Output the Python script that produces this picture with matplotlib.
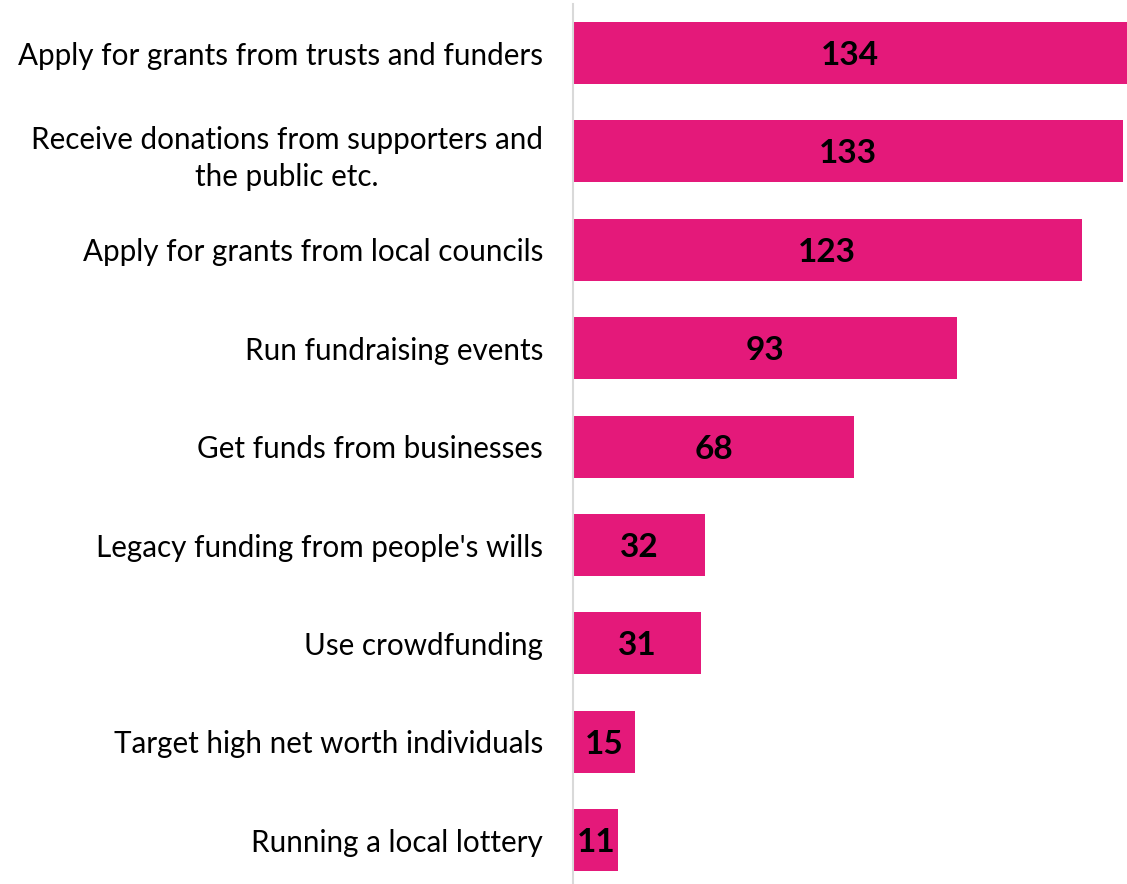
import matplotlib.pyplot as plt

categories = [
    "Apply for grants from trusts and funders",
    "Receive donations from supporters and\nthe public etc.",
    "Apply for grants from local councils",
    "Run fundraising events",
    "Get funds from businesses",
    "Legacy funding from people's wills",
    "Use crowdfunding",
    "Target high net worth individuals",
    "Running a local lottery",
]
counts = [134, 133, 123, 93, 68, 32, 31, 15, 11]

plt.rcParams['font.family'] = ['Lato', 'DejaVu Sans']

fig = plt.figure(figsize=(11.27, 8.84), dpi=100)
ax = fig.add_axes([573 / 1127, 0, 1 - 573 / 1127, 1 - 4 / 884])

pos = list(range(len(categories)))
bars = ax.barh(pos, counts, height=0.63, color='#E4197A')

for b, v in zip(bars, counts):
    ax.text(b.get_width() / 2, b.get_y() + b.get_height() / 2, str(v),
            ha='center', va='center_baseline', fontsize=24, fontweight='bold',
            color='black')

ax.set_yticks(pos)
ax.set_yticklabels(categories, fontsize=21.3, multialignment='center',
                   linespacing=1.4)
ax.tick_params(axis='y', length=0, pad=21.6)
ax.set_xticks([])
ax.set_xlim(0, 134)
ax.set_ylim(8.445, -0.498)

for s in ['top', 'right', 'bottom']:
    ax.spines[s].set_visible(False)
ax.spines['left'].set_color('#d9d9d9')
ax.spines['left'].set_linewidth(1.5)

fig.savefig('out.png', dpi=100)
